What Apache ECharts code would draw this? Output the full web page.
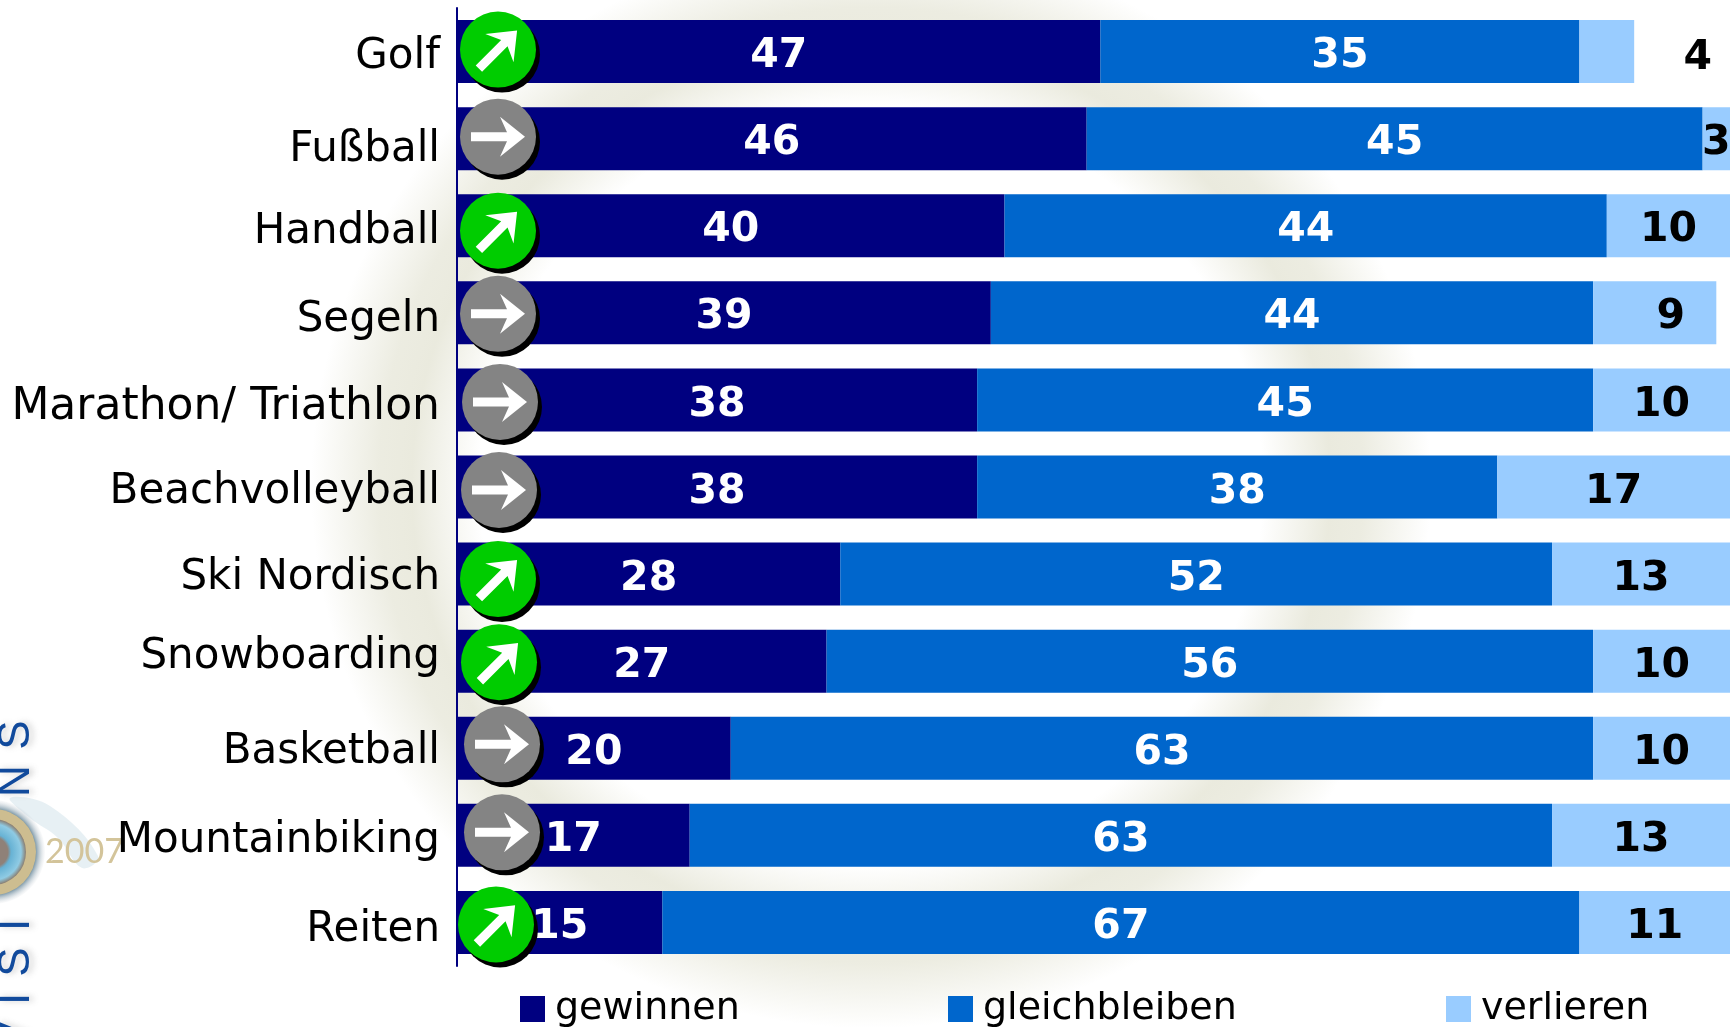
<!DOCTYPE html>
<html>
<head>
<meta charset="utf-8">
<style>html,body{margin:0;padding:0;background:#fff;overflow:hidden}#c{width:1730px;height:1027px}</style>
<script src="https://cdn.jsdelivr.net/npm/echarts@6/dist/echarts.min.js"></script>
</head>
<body>
<div id="c"></div>
<script>
// Sportarten und Einschätzung in Prozent
const categories = ['Golf','Fußball','Handball','Segeln','Marathon/ Triathlon','Beachvolleyball','Ski Nordisch','Snowboarding','Basketball','Mountainbiking','Reiten'];
const gewinnen = [47,46,40,39,38,38,28,27,20,17,15];
const gleichbleiben = [35,45,44,44,45,38,52,56,63,63,67];
const verlieren = [4,3,10,9,10,17,13,10,10,13,11];
const trend = ['up','flat','up','flat','flat','flat','up','up','flat','flat','up'];

// Feinjustierung der Beschriftungen und Plaketten je Zeile, in Pixeln
const nameShift = [6,11,6,7,8,5,4,-4,4,6,8];
const nameSize = [42,42,42,42,44,42,42,42,42,42,42];
const badgeShift = [[41,-2],[41,-2],[41,5],[41,1],[43,2],[42,3],[41,5],[42,1],[45,-4],[45,-3],[39,2]];
const labelShift = [0,5];
const lastLabelShift = {0:[91,7],3:[16,5]};

const navy = '#000080', blue = '#0066CC', light = '#99CCFF';
const labelFont = {fontFamily:'DejaVu Sans',fontWeight:'bold',fontSize:41};

function barSeries(name, values, color, textColor, shifts) {
  return {
    name, type:'bar', stack:'s', barWidth:63, z:2,
    itemStyle:{color},
    label:{show:true,position:'inside',offset:labelShift,color:textColor,...labelFont},
    data:values.map((v,i)=>shifts && shifts[i] ? {value:v,label:{offset:shifts[i]}} : v)
  };
}

// Pfeilumriss, nach rechts zeigend; bei steigendem Trend um 45 Grad gedreht
const arrowOutline = [[-27,-4.5],[9,-4.5],[2,-20],[27,0],[2,20],[9,4.5],[-27,4.5]];
function arrowPoints(kind, cx, cy) {
  const a = kind === 'up' ? -Math.PI/4 : 0;
  return arrowOutline.map(([x,y])=>[cx + x*Math.cos(a) - y*Math.sin(a), cy + x*Math.sin(a) + y*Math.cos(a)]);
}

function renderBadge(params, api) {
  const i = api.value(1);
  const p = api.coord([0,i]);
  const cx = p[0] + badgeShift[i][0], cy = p[1] + badgeShift[i][1];
  const kind = trend[i];
  return {type:'group',children:[
    {type:'circle',shape:{cx:cx+4,cy:cy+5,r:38},style:{fill:'#000'}},
    {type:'circle',shape:{cx,cy,r:38},style:{fill:kind==='up'?'#00CC00':'#848484'}},
    {type:'polygon',shape:{points:arrowPoints(kind,cx,cy)},style:{fill:'#fff'}}
  ]};
}

// Zeilenweise Verschiebung der Namen über Rich-Text-Stile
const nameRich = {};
nameShift.forEach((s,i)=>{
  nameRich['n'+i] = {fontFamily:'DejaVu Sans',fontSize:nameSize[i],color:'#000',
    padding:s>=0?[2*s,0,0,0]:[0,0,-2*s,0]};
});

function legendAt(left,name){
  return {left,top:985,data:[name],icon:'rect',itemWidth:25,itemHeight:26,itemGap:10,
    textStyle:{fontFamily:'DejaVu Sans',fontSize:38,color:'#000',padding:[0,0,0,5]}};
}

// Logo am linken Rand und heller Ring im Hintergrund
const logoLetters = [['S',735],['N',781],['I',925],['S',962],['I',999],['V',1036]];
const backdrop = [
  {type:'circle',z:-10,x:871,y:485,scaleY:0.97,shape:{cx:0,cy:0,r:560},silent:true,
   style:{fill:new echarts.graphic.RadialGradient(0.5,0.5,0.5,[
     {offset:0,color:'rgba(233,233,220,0)'},
     {offset:0.7,color:'rgba(233,233,220,0)'},
     {offset:0.82,color:'rgba(233,233,220,0.95)'},
     {offset:0.88,color:'rgba(233,233,220,0.85)'},
     {offset:1,color:'rgba(233,233,220,0)'}])}},
  {type:'polygon',z:-9,silent:true,
   shape:{points:[[10,798],[50,806],[98,856],[82,868],[58,838],[30,818]],smooth:0.4},
   style:{fill:'rgba(175,205,220,0.3)'}},
  {type:'circle',z:-8,silent:true,shape:{cx:-7,cy:852,r:52},
   style:{fill:new echarts.graphic.RadialGradient(0.5,0.5,0.5,[
     {offset:0,color:'rgba(90,110,125,0.9)'},{offset:0.82,color:'rgba(90,125,145,0.8)'},
     {offset:1,color:'rgba(210,215,220,0.1)'}])}},
  {type:'circle',z:-7,silent:true,shape:{cx:-7,cy:852,r:43},style:{fill:'#cdbd90'}},
  {type:'circle',z:-6,silent:true,shape:{cx:-7,cy:852,r:33},
   style:{fill:new echarts.graphic.RadialGradient(0.5,0.5,0.5,[
     {offset:0,color:'#8f8178'},{offset:0.45,color:'#8f8178'},
     {offset:0.55,color:'#67b2d4'},{offset:0.85,color:'#8fcbe4'},{offset:1,color:'#8a7d70'}])}},
  {type:'text',z:-5,silent:true,x:45,y:852,
   style:{text:'2007',fontFamily:'Lato',fontSize:34,fill:'#d3c49a',verticalAlign:'middle'}},
  ...logoLetters.map(([t,y])=>({type:'text',z:-5,silent:true,x:39,y,rotation:Math.PI/2,
    style:{text:t,fontFamily:'Liberation Sans',fontSize:44,lineHeight:44,fill:'#114a9c',align:'center',verticalAlign:'bottom',
      textShadowColor:'rgba(120,120,120,0.35)',textShadowBlur:6,textShadowOffsetX:4}}))
];

const chart = echarts.init(document.getElementById('c'),null,{renderer:'canvas'});
chart.setOption({
  animation:false,
  backgroundColor:'#fff',
  graphic:backdrop,
  legend:[legendAt(515,'gewinnen'),legendAt(943,'gleichbleiben'),legendAt(1441,'verlieren')],
  grid:{left:457,top:8,width:1273,height:958,containLabel:false},
  xAxis:{type:'value',min:0,max:93,show:false},
  yAxis:{type:'category',inverse:true,data:categories,
    axisLine:{show:true,lineStyle:{color:navy,width:2}},
    axisTick:{show:false},
    axisLabel:{margin:17,interval:0,
      formatter:(v)=>`{n${categories.indexOf(v)}|${v}}`,rich:nameRich}},
  series:[
    barSeries('gewinnen',gewinnen,navy,'#fff'),
    barSeries('gleichbleiben',gleichbleiben,blue,'#fff'),
    barSeries('verlieren',verlieren,light,'#000',lastLabelShift),
    {type:'custom',z:5,silent:true,coordinateSystem:'cartesian2d',renderItem:renderBadge,clip:false,
     encode:{x:0,y:1},legendHoverLink:false,
     data:categories.map((c,i)=>[0,i])}
  ]
});
</script>
</body>
</html>
